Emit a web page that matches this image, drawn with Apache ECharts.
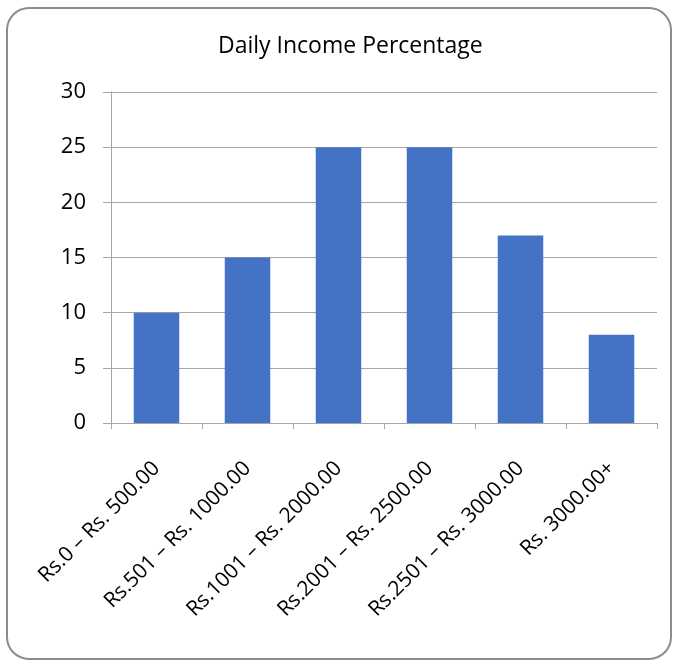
<!DOCTYPE html>
<html>
<head>
<meta charset="utf-8">
<script src="https://cdn.jsdelivr.net/npm/echarts@6/dist/echarts.min.js"></script>
<style>
html,body{margin:0;padding:0;background:#fff;}
#chart{width:678px;height:664px;}
</style>
</head>
<body>
<div id="chart"></div>
<script>
// Share of respondents by daily income band
const categories = [
  'Rs.0 \u2013 Rs. 500.00',
  'Rs.501 \u2013 Rs. 1000.00',
  'Rs.1001 \u2013 Rs. 2000.00',
  'Rs.2001 \u2013 Rs. 2500.00',
  'Rs.2501 \u2013 Rs. 3000.00',
  'Rs. 3000.00+'
];
const percentages = [10, 15, 25, 25, 17, 8];
const yTicks = { min: 0, max: 30, step: 5 };

const FONT = '"Open Sans", "Liberation Sans", sans-serif';
const chart = echarts.init(document.getElementById('chart'), null, { renderer: 'canvas' });

chart.setOption({
  backgroundColor: '#fff',
  animation: false,
  title: {
    text: 'Daily Income Percentage',
    left: 213,
    top: 30,
    textStyle: { fontFamily: FONT, fontSize: 23, fontWeight: 'normal', color: '#000' }
  },
  graphic: [{
    type: 'rect',
    shape: { x: 7, y: 8, width: 664, height: 651, r: 22 },
    style: { fill: 'none', stroke: '#8c8c8c', lineWidth: 2 },
    z: -1
  }],
  grid: { left: 111, right: 21, top: 92, bottom: 241, containLabel: false },
  xAxis: {
    type: 'category',
    data: categories,
    axisLine: { lineStyle: { color: '#a6a6a6', width: 1 } },
    axisTick: { show: true, length: 6, lineStyle: { color: '#a6a6a6' } },
    axisLabel: {
      rotate: 45,
      interval: 0,
      margin: 42,
      fontFamily: FONT,
      fontSize: 21,
      color: '#000'
    }
  },
  yAxis: {
    type: 'value',
    min: yTicks.min,
    max: yTicks.max,
    interval: yTicks.step,
    axisLine: { show: true, lineStyle: { color: '#a6a6a6', width: 1 } },
    axisTick: { show: true, length: 8, lineStyle: { color: '#a6a6a6' } },
    splitLine: { lineStyle: { color: '#a6a6a6', width: 1 } },
    axisLabel: {
      margin: 25,
      fontFamily: FONT,
      fontSize: 22,
      color: '#000'
    }
  },
  series: [{
    type: 'bar',
    data: percentages,
    barWidth: '50%',
    itemStyle: { color: '#4472c4' }
  }]
});
</script>
</body>
</html>
